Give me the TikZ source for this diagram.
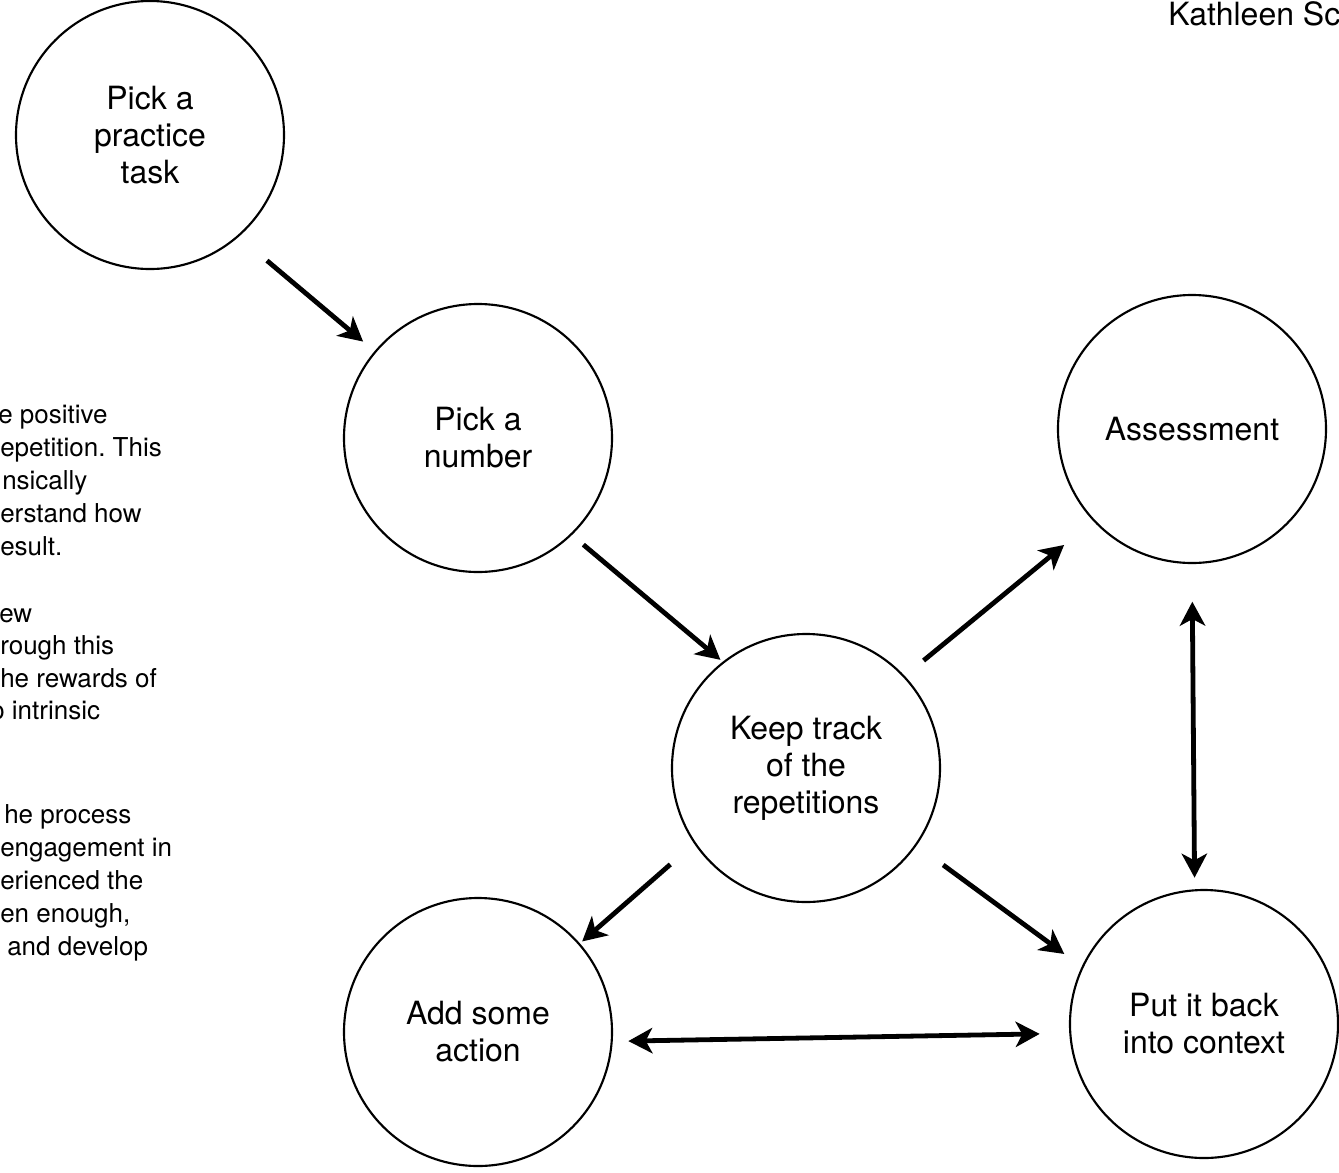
\documentclass[tikz,border=0pt]{standalone}
\usepackage{fontspec}
\setmainfont{TeX Gyre Heros}
\usetikzlibrary{arrows.meta}
\frenchspacing

\tikzset{
	stage/.style={circle, draw, line width=1.6pt, minimum size=201pt, inner sep=0pt, outer sep=0pt, align=center, font=\fontsize{24}{27.75}\selectfont},
	flow/.style={line width=3.6pt, -{Stealth[length=18pt,width=19pt,inset=5pt]}},
	twoway/.style={line width=3.6pt, {Stealth[length=18pt,width=19pt,inset=5pt]}-{Stealth[length=18pt,width=19pt,inset=5pt]}},
	notes/.style={anchor=base west, inner sep=0pt, font=\fontsize{19.5}{24.75}\selectfont}
}

\begin{document}
\begin{tikzpicture}[x=0.75pt, y=0.75pt]
			%%%%% START %%%%%
			\useasboundingbox (0, 0) rectangle (1339, -1172);
			
			\node[notes, font=\fontsize{24}{27.75}\selectfont] (name) at (1168, -25) {Kathleen Sc};
			
			\node[stage] (task) at (150, -135) {Pick a\\practice\\task};
			\node[stage] (number) at (478, -438) {Pick a\\number};
			\node[stage] (track) at (806, -768) {Keep track\\of the\\repetitions};
			\node[stage] (assess) at (1192, -429) {Assessment};
			\node[stage] (action) at (478, -1032) {Add some\\action};
			\node[stage] (context) at (1204, -1024) {Put it back\\into context};
			
			\draw[flow, shorten <=28.5pt, shorten >=12pt] (task.-49) -- (number.140);
			\draw[flow, shorten <=12pt, shorten >=3pt] (number.-46.6) -- (track.128.5);
			\draw[flow, shorten <=19pt, shorten >=29pt] (track.43.7) -- (assess.223.6);
			\draw[twoway, shorten <=29pt, shorten >=9.5pt] (assess.-90) -- (context.94.7);
			\draw[flow, shorten <=24.5pt, shorten >=3pt] (track.214.7) -- (action.41.8);
			\draw[flow, shorten <=25.5pt, shorten >=17pt] (track.-35.3) -- (context.155.1);
			\draw[twoway, shorten <=12.5pt, shorten >=23pt] (action.-4.6) -- (context.184.2);
			
			\node[notes] (p1) at (-2, -423) {e positive};
			\node[notes] (p2) at (0, -456) {epetition. This};
			\node[notes] (p3) at (2, -489) {nsically};
			\node[notes] (p4) at (0, -522) {erstand how};
			\node[notes] (p5) at (0, -555) {esult.};
			
			\node[notes] (p6) at (-1, -622) {ew};
			\node[notes] (p7) at (0, -654) {rough this};
			\node[notes] (p8) at (0, -687) {he rewards of};
			\node[notes] (p9) at (-10, -719) {o intrinsic};
			
			\node[notes] (p10) at (4, -823) {he process};
			\node[notes] (p11) at (0, -856) {engagement in};
			\node[notes] (p12) at (0, -889) {erienced the};
			\node[notes] (p13) at (0, -922) {en enough,};
			\node[notes] (p14) at (7, -955) {and develop};
			
			%%%%% END %%%%%
\end{tikzpicture}
\end{document}
